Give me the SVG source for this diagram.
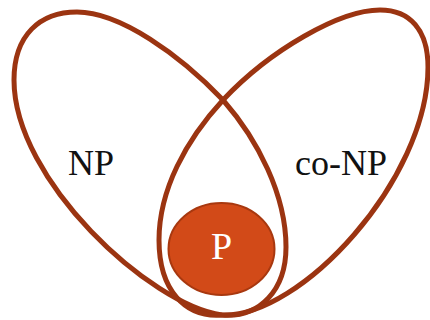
<svg xmlns="http://www.w3.org/2000/svg" width="430" height="320" viewBox="0 0 430 320">
<style>
.set{fill:none;stroke:#9B3411;stroke-width:5;stroke-linejoin:round}
.lbl{font-family:"Liberation Serif","Times New Roman",serif;font-size:36px;fill:#111}
</style>
<rect width="430" height="320" fill="#fff"/>
<g id="NP">
<path class="set" d="M77,12 C120,12 180,55 223,100 C258,140 286,195 286,247 C286,290 260,318 222,315 C150,305 14,180 14,80 C14,35 40,12 77,12 Z"/>
<text class="lbl" x="68" y="175">NP</text>
</g>
<g id="coNP">
<path class="set" d="M380,10 C340,10 270,50 223,100 C186,140 159,190 159,240 C159,290 185,318 222,315 C300,318 428,180 428,67 C428,30 410,10 380,10 Z"/>
<text class="lbl" x="295" y="175">co-NP</text>
</g>
<g id="P">
<ellipse cx="221.5" cy="249" rx="53" ry="46" fill="#D24A18" stroke="#A8380F" stroke-width="2"/>
<text class="lbl" x="221.5" y="259" font-size="38" text-anchor="middle" style="fill:#fff;font-size:38px">P</text>
</g>
</svg>
